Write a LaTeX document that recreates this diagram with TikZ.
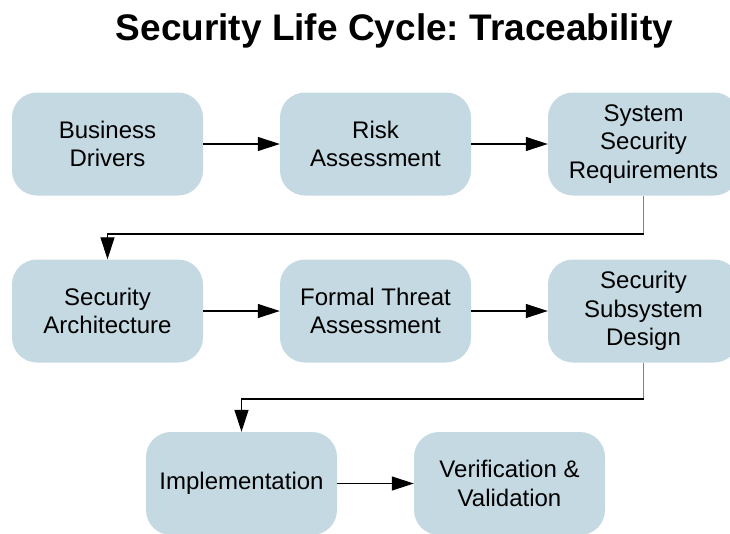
\documentclass[tikz,border=0pt]{standalone}
\usepackage{fontspec}
\setmainfont{Liberation Sans}
\usetikzlibrary{arrows.meta}
\frenchspacing
\definecolor{boxfill}{HTML}{C5D9E2}
\definecolor{stub}{HTML}{808080}
\tikzset{
  stagebox/.style={fill=boxfill, draw=none, rounded corners=25pt,
    minimum width=191pt, minimum height=103pt, inner sep=0pt,
    align=center, font=\fontsize{24}{28.5}\selectfont, text=black},
  flow/.style={draw=black, line width=1.1pt, -{Triangle[length=22pt,width=14pt]}},
  stubline/.style={draw=stub, line width=1.6pt}
}
\begin{document}
\begin{tikzpicture}[x=1pt,y=-1pt]
\useasboundingbox (0,0) rectangle (730,533);
\clip (0,0) rectangle (730,533);
\node[anchor=base, font=\fontsize{37}{40}\selectfont\bfseries] (title) at (394.5,40) {Security Life Cycle: Traceability};
\node[stagebox] (b1) at (107.5,144) {Business\\Drivers};
\node[stagebox] (b2) at (375.5,144) {Risk\\Assessment};
\node[stagebox] (b3) at (643.5,144) {System\\Security\\Requirements};
\node[stagebox] (b4) at (107.5,311) {Security\\Architecture};
\node[stagebox] (b5) at (375.5,311) {Formal Threat\\Assessment};
\node[stagebox] (b6) at (643.5,311) {Security\\Subsystem\\Design};
\node[stagebox] (b7) at (241.5,483.5) {Implementation};
\node[stagebox] (b8) at (509.5,483.5) {Verification \&\\Validation};
\coordinate (r1) at (0,234);
\coordinate (r2) at (0,399);
\draw[flow] (b1) -- (b2);
\draw[flow] (b2) -- (b3);
\draw[flow] (b4) -- (b5);
\draw[flow] (b5) -- (b6);
\draw[flow] (b7) -- (b8);
\draw[stubline] (b3.south) -- (b3.south |- r1);
\draw[flow] (b3.south |- r1) -| (b4.north);
\draw[stubline] (b6.south) -- (b6.south |- r2);
\draw[flow] (b6.south |- r2) -| (b7.north);
\end{tikzpicture}
\end{document}
